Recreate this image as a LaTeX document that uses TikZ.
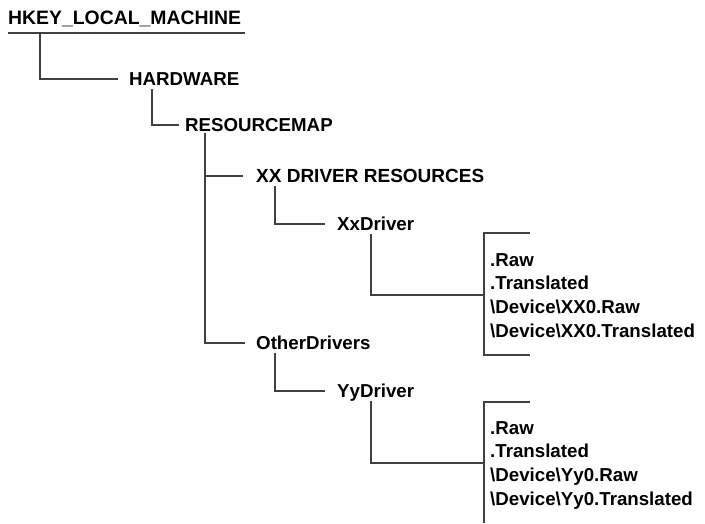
\documentclass[tikz,border=0pt]{standalone}
\usepackage{fontspec}
\setmainfont{Liberation Sans}
\begin{document}
\begin{tikzpicture}[x=1pt,y=-1pt,
  lbl/.style={font=\fontsize{18.7}{22}\selectfont\bfseries, anchor=west, inner xsep=0pt, inner ysep=0pt, text height=13.4pt, text depth=0pt},
  big/.style={font=\fontsize{19.4}{23}\selectfont\bfseries, text height=13.9pt},
  mid/.style={font=\fontsize{19}{23}\selectfont\bfseries, text height=13.6pt},
  conn/.style={line width=1.2pt, draw=black!75}]
\useasboundingbox (0,0) rectangle (705,523);
% nodes
\node[lbl,big] (hkey) at (8,18) {HKEY\_LOCAL\_MACHINE};
\node[lbl] (hw) at (129,79) {HARDWARE};
\node[lbl] (rm) at (185,125) {RESOURCEMAP};
\node[lbl,mid] (xxr) at (256,176) {XX DRIVER RESOURCES};
\node[lbl] (xxd) at (337,224) {XxDriver};
\node[lbl] (r1) at (490,260) {.Raw};
\node[lbl] (r2) at (490,283) {.Translated};
\node[lbl] (r3) at (490,307) {\textbackslash Device\textbackslash XX0.Raw};
\node[lbl] (r4) at (490,331) {\textbackslash Device\textbackslash XX0.Translated};
\node[lbl] (od) at (256,343) {OtherDrivers};
\node[lbl] (yyd) at (337,391) {YyDriver};
\node[lbl] (s1) at (490,428) {.Raw};
\node[lbl] (s2) at (490,451) {.Translated};
\node[lbl] (s3) at (490,475) {\textbackslash Device\textbackslash Yy0.Raw};
\node[lbl] (s4) at (490,499) {\textbackslash Device\textbackslash Yy0.Translated};
% coordinates
\coordinate (ulA) at (8,33);
\coordinate (ulB) at (245,33);
\coordinate (hkeyD) at (40,33);
\coordinate (hwD) at (152,89);
\coordinate (rmD) at (205,133);
\coordinate (xxrD) at (275,186);
\coordinate (xxdD) at (371,234);
\coordinate (odD) at (275,353);
\coordinate (yydD) at (371,401);
\coordinate (b1t) at (484,233);
\coordinate (b1te) at (530,233);
\coordinate (b1b) at (484,355);
\coordinate (b1be) at (530,355);
\coordinate (b2t) at (484,402);
\coordinate (b2te) at (530,402);
\coordinate (b2b) at (484,523);
% connectors
\draw[conn] (ulA) -- (ulB);
\draw[conn] (hkeyD) |- ([xshift=-11pt]hw.west);
\draw[conn] (hwD) |- ([xshift=-6pt]rm.west);
\draw[conn] (rmD) |- ([xshift=-11pt]od.west);
\draw[conn] (rmD |- xxr.west) -- ([xshift=-13pt]xxr.west);
\draw[conn] (xxrD) |- ([xshift=-12pt]xxd.west);
\draw[conn] (xxdD) |- (b1t |- 0,295);
\draw[conn] (b1te) -- (b1t) -- (b1b) -- (b1be);
\draw[conn] (odD) |- ([xshift=-12pt]yyd.west);
\draw[conn] (yydD) |- (b2t |- 0,463);
\draw[conn] (b2te) -- (b2t) -- (b2b);
\end{tikzpicture}
\end{document}
